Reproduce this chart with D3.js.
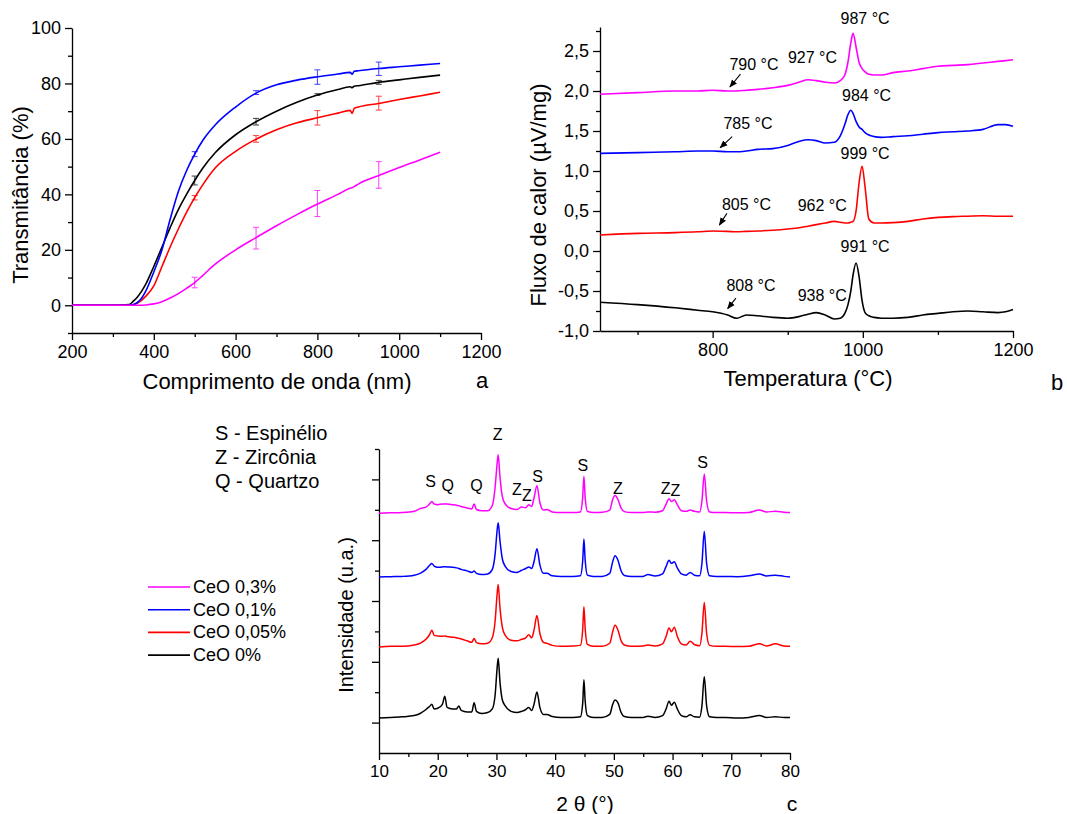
<!DOCTYPE html>
<html>
<head>
<meta charset="utf-8">
<script src="https://cdn.jsdelivr.net/npm/d3@7"></script>
<style>
  body { margin: 0; background: #fff; }
  svg { font-family: "Liberation Sans", Arial, sans-serif; }
</style>
</head>
<body>
<svg id="fig" width="1067" height="814"></svg>
<script>
/* global d3 */

// series shared by the three panels
const seriesNames = ['CeO 0,3%', 'CeO 0,1%', 'CeO 0,05%', 'CeO 0%'];
const seriesColors = ['#ff00ff', '#0000ff', '#ff0000', '#000000'];

// (a) transmittance vs wavelength
const uvWl = [200, 300, 340, 350, 360, 370, 380, 400, 420, 440, 460, 480, 500, 520, 550, 600, 650, 700, 750, 800, 850, 880, 885, 890, 900, 950, 1000, 1050, 1100];
const uvMag = [0, 0, 0, 0, 0, 0, 0.1, 0.5, 1.3, 2.6, 4.2, 6.1, 8.2, 10.8, 14.8, 20, 24.4, 28.7, 32.7, 36.5, 40, 42.2, 42.4, 42.8, 43.7, 46.8, 49.7, 52.4, 55.2];
const uvBlue = [0, 0, 0, 0.3, 1, 2.5, 5, 12, 20, 31, 41, 48.5, 54.5, 59.5, 65, 71.5, 76.5, 79.5, 81.2, 82.4, 83.4, 84, 83.3, 84.4, 84.6, 85.4, 86, 86.6, 87.2];
const uvRed = [0, 0, 0, 0.2, 0.8, 1.8, 3.2, 7, 14, 21, 27.5, 33.5, 38.8, 43.5, 49.5, 55.5, 59.9, 63.3, 65.8, 67.6, 69.3, 70.3, 69.2, 71, 71.5, 72.8, 74.2, 75.5, 76.8];
const uvBlack = [0, 0, 0.3, 1.5, 3, 5, 7.5, 14, 21, 28, 34.5, 40, 45, 49.5, 55, 61.5, 66.2, 70, 73.2, 75.8, 77.8, 78.8, 78.5, 79, 79.2, 80.4, 81.3, 82.2, 83];

const errWl = [500, 650, 800, 950];
const errMean = [
  [8.2, 24.2, 36.7, 47],
  [54.5, 76.7, 82.3, 85.3],
  [38.8, 60, 67.6, 72.9],
  [45, 66.2, 76, 80.4]
];
const errSd = [
  [1.9, 3.9, 4.7, 4.8],
  [0.9, 0.7, 2.6, 2.4],
  [0.8, 1.2, 2.6, 2.5],
  [1.6, 1.2, 0.3, 0.7]
];

// (b) DTA heat flow vs temperature
const dtaT = [650, 700, 750, 780, 800, 820, 832, 845, 860, 880, 900, 915, 927, 938, 950, 962, 970, 976, 980, 984, 987, 991, 995, 999, 1003, 1008, 1015, 1025, 1040, 1060, 1080, 1100, 1120, 1140, 1160, 1180, 1190, 1200];
const dtaMag = [1.96, 1.98, 2.0, 2.0, 2.01, 2.0, 2.0, 2.01, 2.02, 2.04, 2.07, 2.11, 2.14, 2.13, 2.11, 2.1, 2.13, 2.2, 2.35, 2.6, 2.72, 2.55, 2.36, 2.28, 2.24, 2.21, 2.2, 2.2, 2.23, 2.25, 2.28, 2.31, 2.32, 2.33, 2.35, 2.37, 2.38, 2.39];
const dtaBlue = [1.22, 1.23, 1.24, 1.25, 1.25, 1.24, 1.24, 1.25, 1.27, 1.28, 1.32, 1.37, 1.39, 1.38, 1.35, 1.36, 1.44, 1.58, 1.7, 1.76, 1.72, 1.62, 1.55, 1.52, 1.48, 1.45, 1.43, 1.42, 1.43, 1.44, 1.46, 1.48, 1.49, 1.5, 1.52, 1.58, 1.58, 1.56];
const dtaRed = [0.2, 0.22, 0.23, 0.24, 0.25, 0.245, 0.24, 0.245, 0.25, 0.26, 0.275, 0.29, 0.31, 0.33, 0.35, 0.37, 0.36, 0.35, 0.35, 0.36, 0.37, 0.5, 0.85, 1.06, 0.8, 0.4, 0.35, 0.35, 0.355, 0.37, 0.4, 0.42, 0.43, 0.435, 0.44, 0.435, 0.435, 0.435];
const dtaBlack = [-0.64, -0.67, -0.71, -0.74, -0.76, -0.8, -0.84, -0.8, -0.81, -0.83, -0.84, -0.82, -0.79, -0.77, -0.8, -0.85, -0.84, -0.78, -0.68, -0.5, -0.3, -0.15, -0.32, -0.62, -0.77, -0.81, -0.83, -0.84, -0.84, -0.83, -0.8, -0.78, -0.76, -0.75, -0.76, -0.77, -0.76, -0.73];

// temperature labels: text, T, flux ; arrows: from (T, flux) to (T, flux)
const dtaLabels = [
  ['987 °C', 1003, 2.84], ['927 °C', 933, 2.35], ['790 °C', 855, 2.26],
  ['984 °C', 1005, 1.87], ['785 °C', 847, 1.52],
  ['999 °C', 1003, 1.15], ['805 °C', 845, 0.51], ['962 °C', 946, 0.5],
  ['991 °C', 1003, -0.01], ['808 °C', 851, -0.5], ['938 °C', 946, -0.63]
];
const dtaArrows = [
  [837, 2.21, 823, 2.05],
  [826, 1.43, 810, 1.29],
  [819, 0.47, 809, 0.325],
  [831, -0.59, 820, -0.72]
];

// (c) XRD intensity vs 2 theta (relative to each baseline)
const xrdTheta = [10, 12, 14, 16, 17, 18, 18.6, 19, 19.4, 20, 20.8, 21.2, 21.6, 22.5, 23.2, 23.6, 24, 25, 25.8, 26.2, 26.6, 27.5, 28.5, 29.3, 29.8, 30.1, 30.3, 30.6, 31, 31.5, 32.5, 33.5, 34.3, 35, 35.5, 36, 36.4, 36.9, 37.4, 38, 38.6, 39.5, 41, 43, 44.3, 44.7, 44.9, 45.1, 45.5, 46.5, 48, 49.3, 49.8, 50.2, 50.7, 51.2, 51.8, 53, 55, 55.8, 57, 58.3, 58.9, 59.4, 59.8, 60.3, 60.8, 61.5, 62.3, 63, 63.7, 64.6, 65, 65.4, 65.8, 66.3, 67.5, 69, 71, 73, 74.8, 76, 77.5, 79, 80];
const xrdMag = [0, 0.01, 0.02, 0.06, 0.15, 0.2, 0.3, 0.38, 0.3, 0.28, 0.3, 0.3, 0.3, 0.28, 0.26, 0.24, 0.22, 0.17, 0.14, 0.3, 0.12, 0.08, 0.08, 0.25, 0.9, 1.6, 1.92, 1.2, 0.55, 0.3, 0.15, 0.12, 0.2, 0.18, 0.28, 0.22, 0.5, 0.9, 0.35, 0.1, 0.12, 0.04, 0.02, 0.02, 0.04, 0.55, 1.21, 0.55, 0.06, 0.02, 0.03, 0.1, 0.45, 0.58, 0.45, 0.18, 0.05, 0.02, 0.02, 0.04, 0.03, 0.08, 0.3, 0.47, 0.38, 0.44, 0.28, 0.08, 0.06, 0.1, 0.06, 0.04, 0.4, 1.29, 0.4, 0.04, 0.02, 0.02, 0.01, 0.02, 0.1, 0.04, 0.06, 0.03, 0.02];
const xrdBlue = [0, 0.01, 0.02, 0.06, 0.12, 0.25, 0.38, 0.44, 0.36, 0.32, 0.33, 0.34, 0.33, 0.32, 0.3, 0.28, 0.25, 0.2, 0.15, 0.2, 0.12, 0.08, 0.1, 0.25, 0.8, 1.5, 1.78, 1.2, 0.6, 0.35, 0.18, 0.15, 0.22, 0.28, 0.33, 0.28, 0.5, 0.93, 0.4, 0.12, 0.12, 0.04, 0.02, 0.02, 0.04, 0.55, 1.25, 0.6, 0.06, 0.02, 0.02, 0.12, 0.5, 0.7, 0.55, 0.22, 0.05, 0.02, 0.02, 0.08, 0.03, 0.1, 0.35, 0.55, 0.45, 0.5, 0.3, 0.1, 0.06, 0.15, 0.06, 0.04, 0.45, 1.5, 0.45, 0.04, 0.02, 0.02, 0.01, 0.04, 0.1, 0.03, 0.06, 0.02, 0];
const xrdRed = [0, 0.02, 0.02, 0.06, 0.12, 0.25, 0.4, 0.55, 0.38, 0.36, 0.35, 0.36, 0.34, 0.32, 0.3, 0.28, 0.26, 0.2, 0.15, 0.28, 0.14, 0.1, 0.12, 0.3, 0.9, 1.7, 2.05, 1.3, 0.65, 0.38, 0.22, 0.2, 0.25, 0.3, 0.4, 0.3, 0.55, 1.03, 0.45, 0.15, 0.12, 0.05, 0.02, 0.03, 0.05, 0.6, 1.32, 0.65, 0.08, 0.02, 0.02, 0.12, 0.5, 0.71, 0.55, 0.22, 0.06, 0.02, 0.03, 0.06, 0.03, 0.1, 0.35, 0.62, 0.5, 0.65, 0.35, 0.1, 0.06, 0.19, 0.08, 0.04, 0.45, 1.46, 0.45, 0.05, 0.02, 0.02, 0.01, 0.02, 0.1, 0.03, 0.1, 0.03, 0.02];
const xrdBlack = [0, 0.02, 0.04, 0.08, 0.15, 0.28, 0.38, 0.45, 0.3, 0.32, 0.45, 0.72, 0.35, 0.3, 0.3, 0.4, 0.25, 0.2, 0.2, 0.5, 0.22, 0.15, 0.18, 0.3, 0.8, 1.6, 1.97, 1.2, 0.6, 0.4, 0.22, 0.18, 0.22, 0.28, 0.35, 0.25, 0.45, 0.86, 0.35, 0.12, 0.12, 0.05, 0.02, 0.02, 0.04, 0.5, 1.26, 0.6, 0.08, 0.02, 0.02, 0.12, 0.45, 0.59, 0.5, 0.2, 0.05, 0.02, 0.02, 0.06, 0.02, 0.08, 0.3, 0.55, 0.42, 0.52, 0.3, 0.08, 0.04, 0.11, 0.04, 0.03, 0.4, 1.36, 0.4, 0.04, 0.02, 0.02, 0, 0.02, 0.08, 0.02, 0.04, 0.02, 0.02];
const xrdOffset = [7.89, 5.79, 3.49, 1.15];

// phase labels: letter, 2theta, intensity (axis units)
const phaseLabels = [
  ['S', 18.8, 8.75], ['Q', 21.7, 8.62], ['Q', 26.6, 8.62], ['Z', 30.2, 10.3],
  ['Z', 33.5, 8.49], ['Z', 35.2, 8.29], ['S', 37.0, 8.91], ['S', 44.7, 9.28],
  ['Z', 50.7, 8.52], ['Z', 58.8, 8.52], ['Z', 60.5, 8.45], ['S', 65.1, 9.38]
];
const phaseKey = ['S - Espinélio', 'Z - Zircônia', 'Q - Quartzo'];

const FONT = '"Liberation Sans", Arial, sans-serif';
const svg = d3.select('#fig');

const comma = d => d3.format('.1f')(d).replace('.', ',').replace('\u2212', '-');

function drawAxis(parent, axisFn, scale, majors, minors, fmt, fontSize, pad, transform) {
  var g = parent.append('g').attr('transform', transform);
  g.append('g')
    .call(axisFn(scale).tickValues(minors).tickSize(4).tickFormat(''))
    .call(s => s.select('.domain').remove());
  g.append('g')
    .call(axisFn(scale).tickValues(majors).tickSize(7).tickSizeOuter(0).tickPadding(pad).tickFormat(fmt))
    .attr('font-family', FONT)
    .attr('font-size', fontSize)
    .call(s => s.selectAll('text').attr('fill', '#000'));
  g.selectAll('line, path').attr('stroke', '#000').attr('stroke-width', 1.3);
  return g;
}

function title(text, x, y, size, rotate) {
  svg.append('text')
    .attr('transform', `translate(${x},${y})` + (rotate ? ' rotate(-90)' : ''))
    .attr('text-anchor', 'middle')
    .attr('font-size', size)
    .attr('fill', '#000')
    .text(text);
}

// ---------- panel a ----------
var xa = d3.scaleLinear().domain([200, 1200]).range([72, 481]);
var ya = d3.scaleLinear().domain([-10, 100]).range([333, 28]);
var ga = svg.append('g');

drawAxis(ga, d3.axisBottom, xa, d3.range(200, 1201, 200), d3.range(300, 1200, 200), d3.format('d'), 18, 5, `translate(0,${ya(-10)})`);
drawAxis(ga, d3.axisLeft, ya, d3.range(0, 101, 20), [-10, 10, 30, 50, 70, 90], d3.format('d'), 18, 4, `translate(${xa(200)},0)`);

var uvSeries = [uvMag, uvBlue, uvRed, uvBlack];
var lineA = d3.line().x(d => xa(d[0])).y(d => ya(d[1])).curve(d3.curveMonotoneX);
[3, 2, 1, 0].forEach(function(i) {
  ga.append('path')
    .datum(uvWl.map((w, j) => [w, uvSeries[i][j]]))
    .attr('d', lineA)
    .attr('fill', 'none')
    .attr('stroke', seriesColors[i])
    .attr('stroke-width', 1.6);

  var bars = ga.append('g').attr('stroke', seriesColors[i]).attr('stroke-width', 1).attr('opacity', 0.75);
  errWl.forEach(function(w, j) {
    var lo = ya(errMean[i][j] - errSd[i][j]), hi = ya(errMean[i][j] + errSd[i][j]), x = xa(w);
    bars.append('line').attr('x1', x).attr('x2', x).attr('y1', lo).attr('y2', hi);
    bars.append('line').attr('x1', x - 3).attr('x2', x + 3).attr('y1', lo).attr('y2', lo);
    bars.append('line').attr('x1', x - 3).attr('x2', x + 3).attr('y1', hi).attr('y2', hi);
  });
});

title('Transmitância (%)', 28, 195, 22, true);
title('Comprimento de onda (nm)', 277, 389, 22);
title('a', 482, 388, 22);

// ---------- panel b ----------
var xb = d3.scaleLinear().domain([650, 1200]).range([600, 1013]);
var yb = d3.scaleLinear().domain([-1, 2.8]).range([331, 27]);
var gb = svg.append('g');

drawAxis(gb, d3.axisBottom, xb, [800, 1000, 1200], [700, 900, 1100], d3.format('d'), 18, 5, `translate(0,${yb(-1)})`);
drawAxis(gb, d3.axisLeft, yb, d3.range(-1, 2.51, 0.5), d3.range(-0.75, 2.8, 0.5), comma, 18, 4, `translate(${xb(650)},0)`);

var dtaSeries = [dtaMag, dtaBlue, dtaRed, dtaBlack];
var lineB = d3.line().x(d => xb(d[0])).y(d => yb(d[1])).curve(d3.curveMonotoneX);
dtaSeries.forEach(function(vals, i) {
  gb.append('path')
    .datum(dtaT.map((t, j) => [t, vals[j]]))
    .attr('d', lineB)
    .attr('fill', 'none')
    .attr('stroke', seriesColors[i])
    .attr('stroke-width', 1.6);
});

svg.append('defs').append('marker')
  .attr('id', 'arrow')
  .attr('markerUnits', 'userSpaceOnUse')
  .attr('viewBox', '0 0 10 10')
  .attr('refX', 9).attr('refY', 5)
  .attr('markerWidth', 8).attr('markerHeight', 8)
  .attr('orient', 'auto')
  .append('path').attr('d', 'M0,1 L10,5 L0,9 z').attr('fill', '#000');

gb.selectAll('line.arrow')
  .data(dtaArrows)
  .enter().append('line')
  .attr('class', 'arrow')
  .attr('x1', d => xb(d[0])).attr('y1', d => yb(d[1]))
  .attr('x2', d => xb(d[2])).attr('y2', d => yb(d[3]))
  .attr('stroke', '#000').attr('stroke-width', 1.1)
  .attr('marker-end', 'url(#arrow)');

gb.selectAll('text.lbl')
  .data(dtaLabels)
  .enter().append('text')
  .attr('class', 'lbl')
  .attr('x', d => xb(d[1])).attr('y', d => yb(d[2]))
  .attr('text-anchor', 'middle')
  .attr('font-size', 16)
  .text(d => d[0]);

title('Fluxo de calor (\u00b5V/mg)', 546, 195, 22, true);
title('Temperatura (°C)', 808, 386, 22);
title('b', 1057, 390, 22);

// ---------- panel c ----------
var xc = d3.scaleLinear().domain([10, 80]).range([379, 790]);
var yc = d3.scaleLinear().domain([0, 10]).range([753, 449]);
var gc = svg.append('g');

drawAxis(gc, d3.axisBottom, xc, d3.range(10, 81, 10), d3.range(15, 80, 10), d3.format('d'), 17, 5, `translate(0,${yc(0)})`);
drawAxis(gc, d3.axisLeft, yc, [1, 3, 5, 7, 9], [2, 4, 6, 8, 10], '', 16, 4, `translate(${xc(10)},0)`);

var xrdSeries = [xrdMag, xrdBlue, xrdRed, xrdBlack];
var lineC = d3.line().x(d => xc(d[0])).y(d => yc(d[1])).curve(d3.curveMonotoneX);
xrdSeries.forEach(function(vals, i) {
  gc.append('path')
    .datum(xrdTheta.map((t, j) => [t, vals[j] + xrdOffset[i]]))
    .attr('d', lineC)
    .attr('fill', 'none')
    .attr('stroke', seriesColors[i])
    .attr('stroke-width', 1.5);
});

gc.selectAll('text.phase')
  .data(phaseLabels)
  .enter().append('text')
  .attr('class', 'phase')
  .attr('x', d => xc(d[1])).attr('y', d => yc(d[2]))
  .attr('text-anchor', 'middle')
  .attr('font-size', 16)
  .text(d => d[0]);

svg.append('g').selectAll('text')
  .data(phaseKey)
  .enter().append('text')
  .attr('x', 215)
  .attr('y', (d, i) => 440 + i * 24)
  .attr('font-size', 20)
  .text(d => d);

title('Intensidade (u.a.)', 353, 615, 20, true);
title('2 \u03b8 (°)', 585, 811, 21);
title('c', 792, 811, 21);

// ---------- legend ----------
var legend = svg.append('g').attr('transform', 'translate(148,587)');
var rows = legend.selectAll('g').data(seriesNames).enter().append('g')
  .attr('transform', (d, i) => `translate(0,${i * 22.7})`);
rows.append('line').attr('x1', 0).attr('x2', 42)
  .attr('stroke', (d, i) => seriesColors[i]).attr('stroke-width', 1.6);
rows.append('text').attr('x', 45).attr('y', 6).attr('font-size', 18).text(d => d);
</script>
</body>
</html>
